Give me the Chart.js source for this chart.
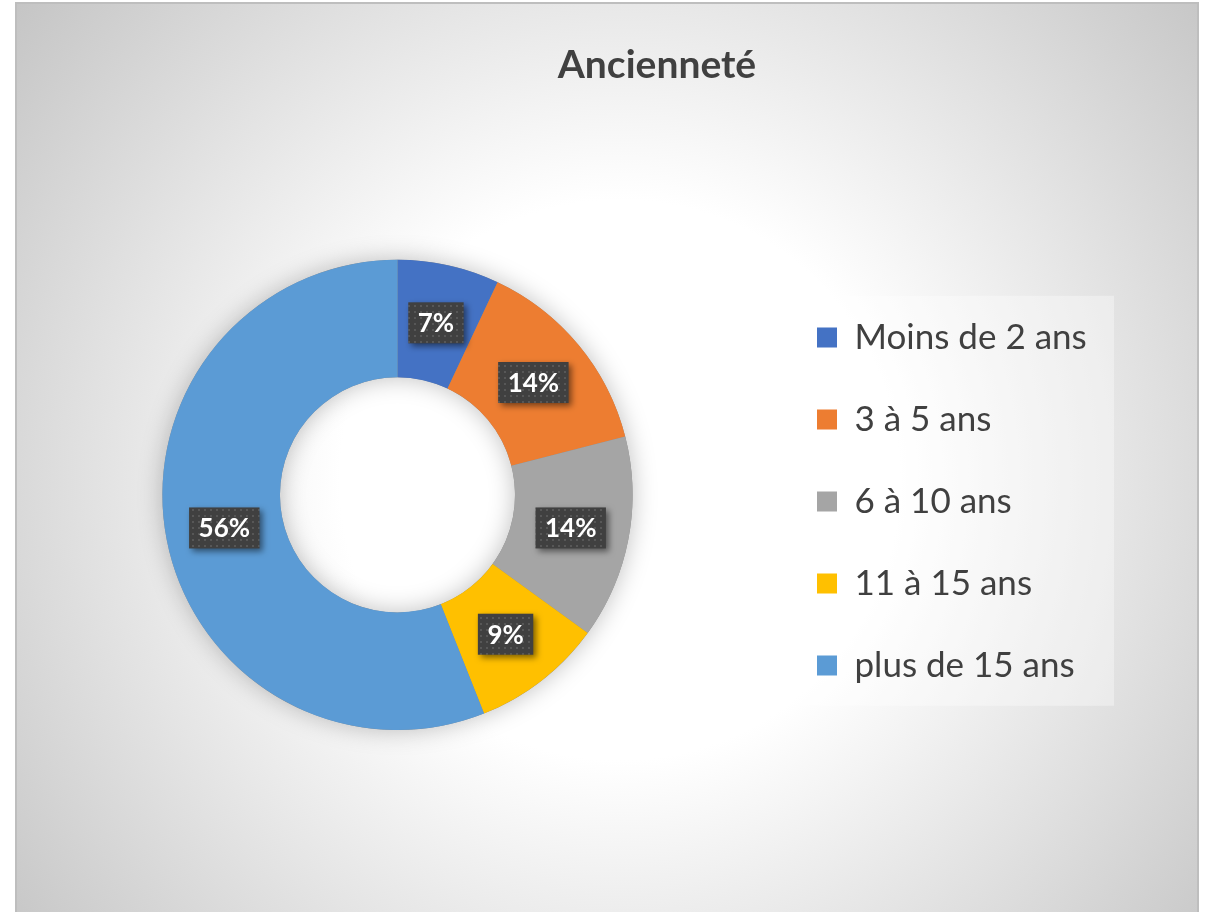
<!DOCTYPE html>
<html>
<head>
<meta charset="utf-8">
<script src="https://cdn.jsdelivr.net/npm/chart.js@4.4.1/dist/chart.umd.min.js"></script>
<style>
html, body { margin:0; padding:0; background:#fff; overflow:hidden; width:1209px; height:912px; }
#frame { position:absolute; left:15px; top:2px; width:1180px; height:960px; border:2px solid #bebebe;
  background: radial-gradient(circle at 603px 476px, #ffffff 280px, #c5c5c5 770px); }
#wrap { position:absolute; left:16px; top:3px; }
</style>
</head>
<body>
<div id="frame"></div>
<div id="wrap"><canvas id="chart" width="1273" height="909"></canvas></div>
<script>
// Ancienneté - share of staff by seniority
var chartTitle = "Ancienneté";
var labels = ["Moins de 2 ans", "3 à 5 ans", "6 à 10 ans", "11 à 15 ans", "plus de 15 ans"];
var values = [7, 14, 14, 9, 56];
var colors = ["#4472C4", "#ED7D31", "#A5A5A5", "#FFC000", "#5B9BD5"];

// light panel behind the legend
var legendBox = {
    id: "legendBox",
    beforeDraw: function(chart) {
        var lg = chart.legend;
        var ctx = chart.ctx;
        ctx.save();
        ctx.fillStyle = "rgba(255,255,255,0.35)";
        ctx.fillRect(lg.left + 17, lg.top + 36, 327, 410);
        ctx.restore();
    }
};

// soft shadow around the ring
var ringShadow = {
    id: "ringShadow",
    beforeDatasetsDraw: function(chart) {
        var arc = chart.getDatasetMeta(0).data[0];
        if (!arc) return;
        var ctx = chart.ctx;
        ctx.save();
        ctx.shadowColor = "rgba(0,0,0,0.25)";
        ctx.shadowBlur = 24;
        ctx.fillStyle = "#8a8a8a";
        ctx.beginPath();
        ctx.arc(arc.x, arc.y, arc.outerRadius, 0, Math.PI * 2);
        ctx.arc(arc.x, arc.y, arc.innerRadius, 0, Math.PI * 2, true);
        ctx.fill();
        ctx.restore();
    }
};

// dotted dark tile for the value labels
var tile = document.createElement("canvas");
tile.width = 6;
tile.height = 6;
var tctx = tile.getContext("2d");
tctx.fillStyle = "#404040";
tctx.fillRect(0, 0, 6, 6);
tctx.fillStyle = "#575757";
tctx.fillRect(2, 2, 2, 2);

var pctLabels = {
    id: "pctLabels",
    afterDatasetsDraw: function(chart) {
        var ctx = chart.ctx;
        var meta = chart.getDatasetMeta(0);
        var total = 0;
        for (var i = 0; i < values.length; i++) total += values[i];
        var pattern = ctx.createPattern(tile, "repeat");
        ctx.save();
        ctx.font = "bold 26px Lato";
        ctx.textAlign = "center";
        ctx.textBaseline = "middle";
        meta.data.forEach(function(arc, i) {
            var p = arc.tooltipPosition();
            var txt = Math.round(values[i] / total * 100) + "%";
            var w = ctx.measureText(txt).width + 19;
            var h = 41;
            ctx.save();
            ctx.shadowColor = "rgba(0,0,0,0.5)";
            ctx.shadowBlur = 6;
            ctx.shadowOffsetX = 3;
            ctx.shadowOffsetY = 3;
            ctx.fillStyle = pattern;
            ctx.fillRect(p.x - w / 2, p.y - h / 2, w, h);
            ctx.restore();
            ctx.fillStyle = "#ffffff";
            ctx.fillText(txt, p.x, p.y + 1);
        });
        ctx.restore();
    }
};

new Chart(document.getElementById("chart"), {
    type: "doughnut",
    data: {
        labels: labels,
        datasets: [{
            data: values,
            backgroundColor: colors,
            borderWidth: 0,
            hoverOffset: 0
        }]
    },
    options: {
        responsive: false,
        animation: false,
        cutout: "50%",
        layout: { padding: { left: 9, right: 0, top: 0, bottom: 182 } },
        plugins: {
            title: {
                display: true,
                text: chartTitle,
                color: "#404040",
                font: { family: "Lato", size: 39, weight: "bold", lineHeight: 1.2 },
                padding: { top: 39, bottom: 171 }
            },
            // empty right-hand spacer so the title sits over the whole frame
            subtitle: {
                display: true,
                text: "",
                position: "right",
                font: { size: 10, lineHeight: 1.2 },
                padding: { top: 95, bottom: 96 }
            },
            legend: {
                position: "right",
                align: "end",
                fullSize: false,
                labels: {
                    boxWidth: 20,
                    boxHeight: 20,
                    padding: 47,
                    color: "#404040",
                    font: { family: "Lato", size: 35 }
                }
            },
            tooltip: { enabled: false }
        }
    },
    plugins: [legendBox, ringShadow, pctLabels]
});
</script>
</body>
</html>
